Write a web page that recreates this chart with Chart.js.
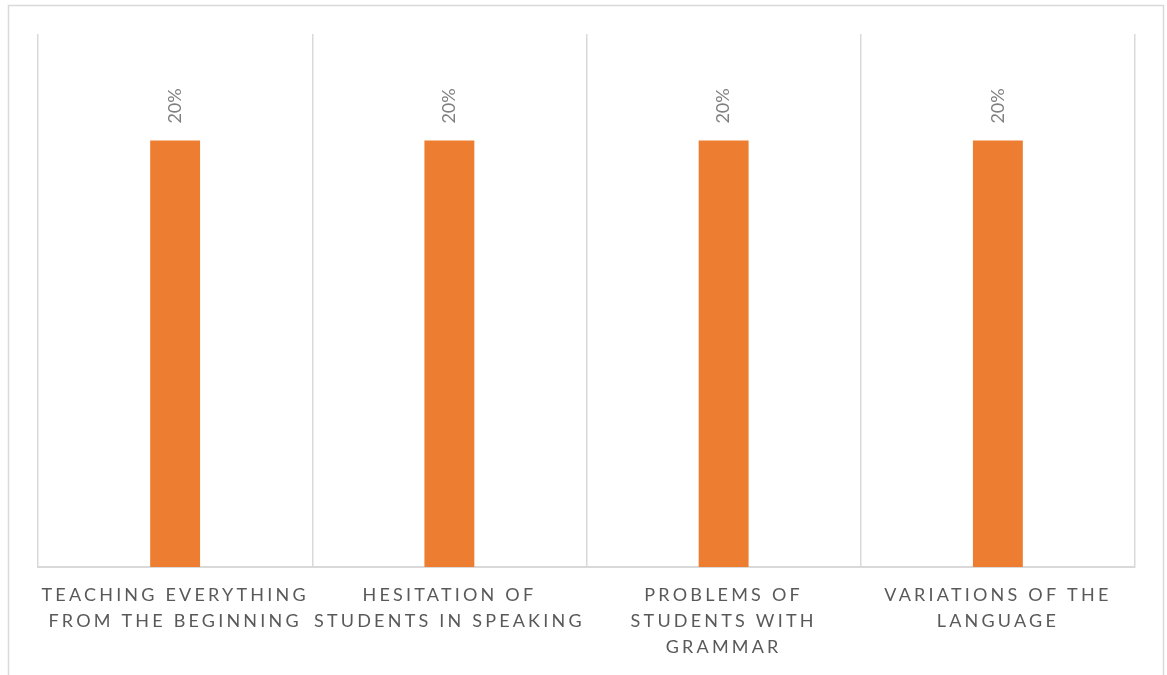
<!DOCTYPE html>
<html>
<head>
<meta charset="utf-8">
<script src="https://cdn.jsdelivr.net/npm/chart.js@4"></script>
<style>
  html, body { margin: 0; padding: 0; background: #fff; }
  #wrap { position: relative; width: 1167px; height: 675px; }
</style>
</head>
<body>
<div id="wrap"><canvas id="c" width="1167" height="675"></canvas></div>
<script>
const categories = [
  ["TEACHING EVERYTHING", "FROM THE BEGINNING"],
  ["HESITATION OF", "STUDENTS IN SPEAKING"],
  ["PROBLEMS OF", "STUDENTS WITH", "GRAMMAR"],
  ["VARIATIONS OF THE", "LANGUAGE"]
];
const values = [0.20, 0.20, 0.20, 0.20];
const valueLabels = ["20%", "20%", "20%", "20%"];

const frame = {
  id: 'frame',
  beforeDraw(chart) {
    const ctx = chart.ctx;
    ctx.save();
    ctx.strokeStyle = '#d9d9d9';
    ctx.lineWidth = 1.5;
    ctx.strokeRect(8.5, 5.5, 1155, 720);
    ctx.restore();
    ctx.letterSpacing = '3.2px';
  },
  beforeDatasetsDraw(chart) {
    chart.ctx.letterSpacing = '0px';
  },
  afterDatasetsDraw(chart) {
    const ctx = chart.ctx;
    const meta = chart.getDatasetMeta(0);
    ctx.save();
    ctx.font = '18px Lato, "Open Sans", sans-serif';
    ctx.fillStyle = '#7f7f7f';
    ctx.textAlign = 'left';
    ctx.textBaseline = 'middle';
    meta.data.forEach((bar, i) => {
      ctx.save();
      ctx.translate(bar.x, bar.y - 17);
      ctx.rotate(-Math.PI / 2);
      ctx.fillText(valueLabels[i], 0, 0);
      ctx.restore();
    });
    ctx.restore();
  }
};

new Chart(document.getElementById('c'), {
  type: 'bar',
  data: {
    labels: categories,
    datasets: [{
      data: values,
      backgroundColor: '#ed7d31',
      borderWidth: 0,
      categoryPercentage: 1,
      barPercentage: 0.182
    }]
  },
  options: {
    responsive: false,
    animation: false,
    devicePixelRatio: 1,
    layout: { padding: { left: 38, right: 32, top: 34, bottom: 0 } },
    plugins: { legend: { display: false }, tooltip: { enabled: false } },
    scales: {
      x: {
        grid: { display: true, offset: true, color: '#d9d9d9', lineWidth: 1.5, drawTicks: false },
        border: { display: true, color: '#d9d9d9', width: 2 },
        ticks: {
          color: '#595959',
          font: { family: 'Lato, "Open Sans", sans-serif', size: 18, lineHeight: 1.444 },
          padding: 15,
          maxRotation: 0,
          autoSkip: false
        },
        afterFit(scale) { scale.height = 108; }
      },
      y: {
        display: false,
        min: 0,
        max: 0.25
      }
    }
  },
  plugins: [frame]
});
</script>
</body>
</html>
